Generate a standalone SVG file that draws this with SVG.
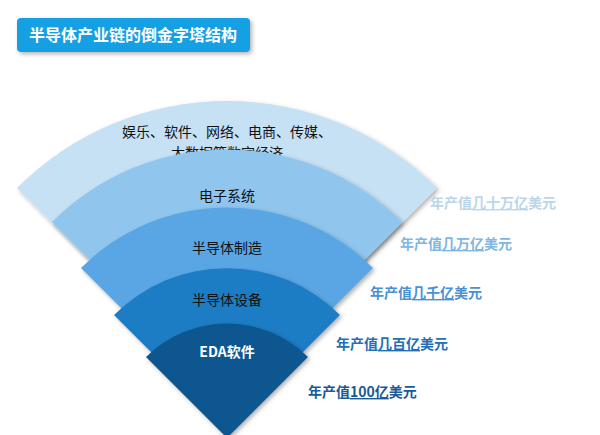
<svg xmlns="http://www.w3.org/2000/svg" width="600" height="435" viewBox="0 0 600 435">
<defs>
<filter id="sh" x="-20%" y="-20%" width="140%" height="140%"><feDropShadow dx="2" dy="2" stdDeviation="2" flood-color="#000" flood-opacity="0.3"/></filter>
<style>
text{font-family:"Noto Sans CJK SC","Liberation Sans",sans-serif}
.in{font-size:14px;fill:#111;text-anchor:middle}
.v{font-size:14px;font-weight:bold}
</style>
</defs>
<rect width="600" height="435" fill="#fff"/>
<g id="title"><rect x="17" y="18" width="233" height="34" rx="4" fill="#18a0e4" filter="url(#sh)"/>
<text x="133" y="41" font-size="16" font-weight="bold" fill="#fff" text-anchor="middle">半导体产业链的倒金字塔结构</text></g>
<g id="b1"><path d="M227,398 L17,188 A297,297 0 0 1 437,188 Z" fill="#c6e0f4" filter="url(#sh)"/>
<text class="in" x="227" y="137">娱乐、软件、网络、电商、传媒、</text><text class="in" x="227" y="158">大数据等数字经济</text></g>
<g id="b2"><path d="M227,397 L52,222 A247.5,247.5 0 0 1 402,222 Z" fill="#90c5ee" filter="url(#sh)"/>
<text class="in" x="227" y="201">电子系统</text></g>
<g id="b3"><path d="M227,414 L81,268 A206.5,206.5 0 0 1 373,268 Z" fill="#5aa6e4" filter="url(#sh)"/>
<text class="in" x="227" y="253">半导体制造</text></g>
<g id="b4"><path d="M227,428 L114,315 A159.8,159.8 0 0 1 340,315 Z" fill="#1f7bc4" filter="url(#sh)"/>
<text class="in" x="227" y="305">半导体设备</text></g>
<g id="b5"><path d="M227,438 L146,357 A114.6,114.6 0 0 1 308,357 Z" fill="#0f568f" filter="url(#sh)"/>
<text class="in" x="227" y="357" style="fill:#fff;font-weight:bold">EDA软件</text></g>
<g id="labels">
<text class="v" x="430" y="208" fill="#bad6ec">年产值<tspan text-decoration="underline">几十万亿</tspan>美元</text>
<text class="v" x="400" y="249" fill="#80b6e2">年产值<tspan text-decoration="underline">几万亿</tspan>美元</text>
<text class="v" x="370" y="298" fill="#4a92d2">年产值<tspan text-decoration="underline">几千亿</tspan>美元</text>
<text class="v" x="336" y="349" fill="#1f70b5">年产值<tspan text-decoration="underline">几百亿</tspan>美元</text>
<text class="v" x="308" y="397" fill="#1a5a96">年产值<tspan text-decoration="underline">100亿</tspan>美元</text>
</g>
</svg>
